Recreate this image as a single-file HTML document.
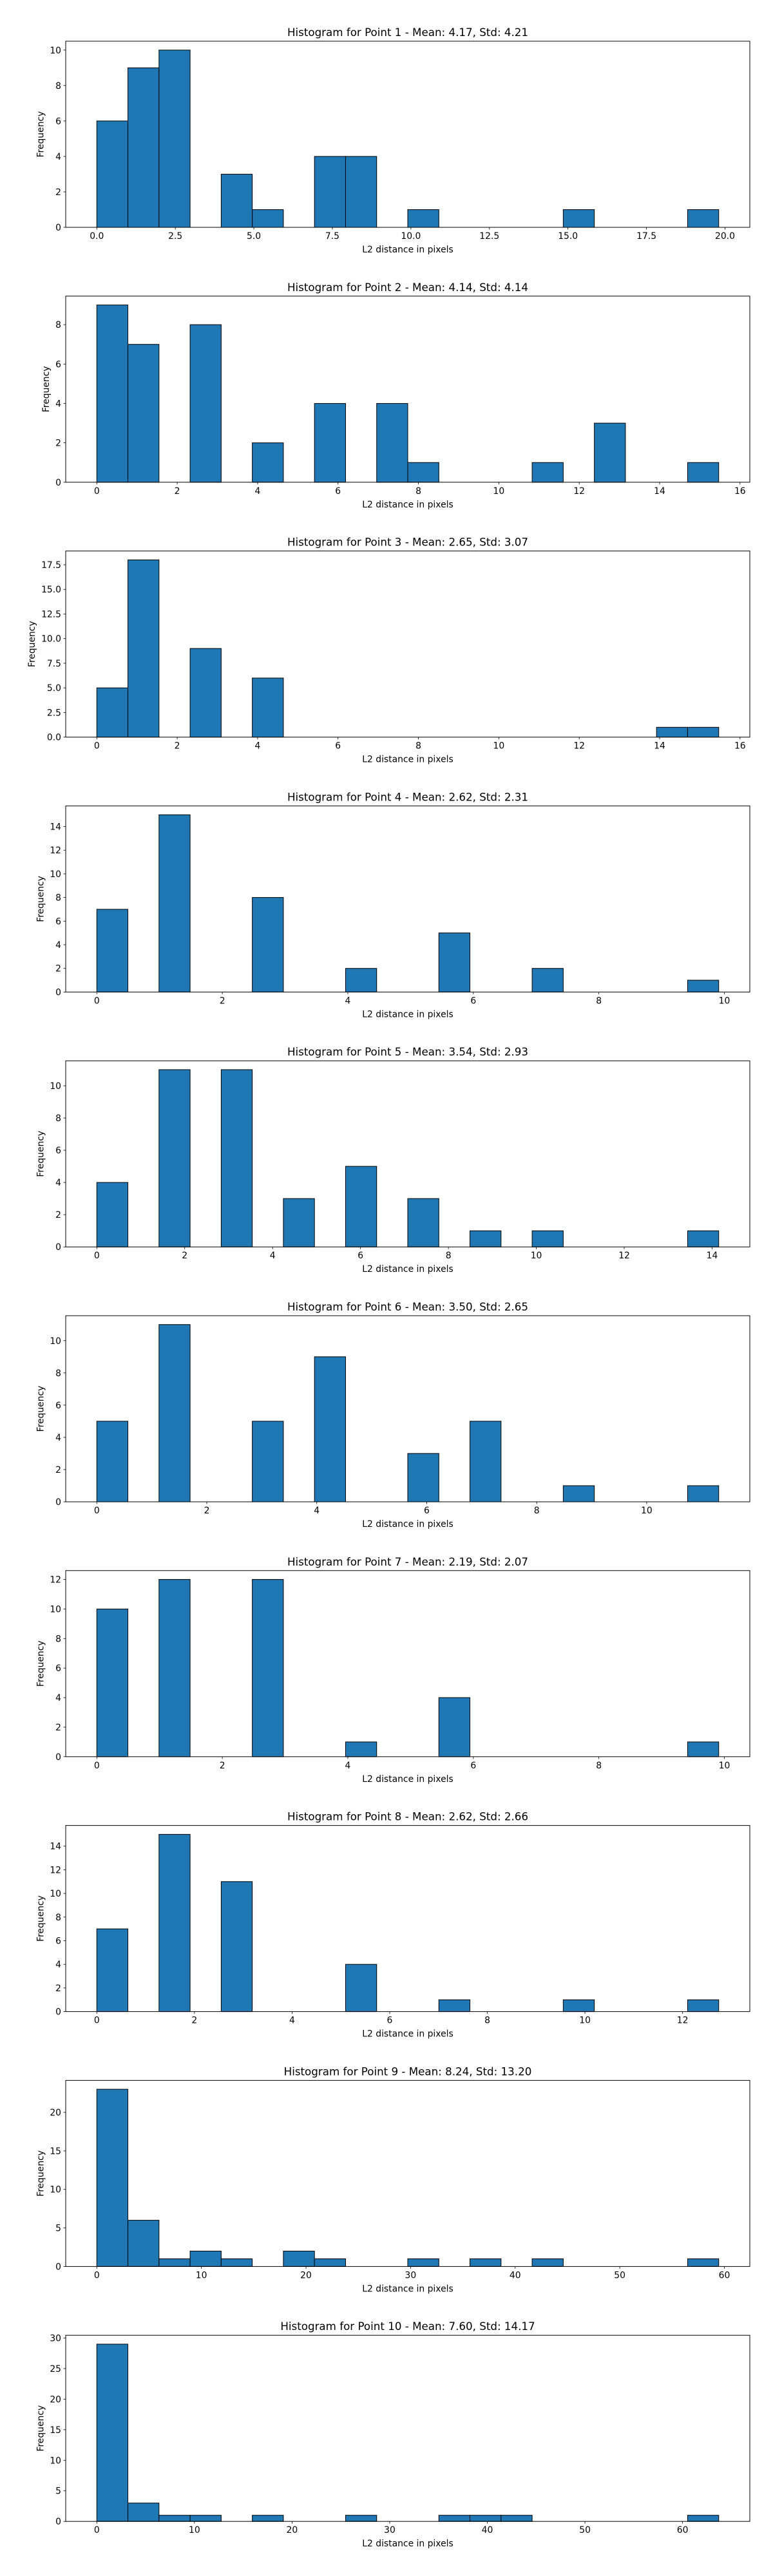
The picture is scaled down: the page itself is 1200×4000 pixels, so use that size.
<!DOCTYPE html>
<html><head><meta charset="utf-8">
<style>
html,body{margin:0;padding:0;background:#fff;}
svg{display:block;font-family:"DejaVu Sans","Liberation Sans",sans-serif;}
</style></head>
<body>
<svg id="fig" width="1200" height="4000" viewBox="0 0 1200 4000" xmlns="http://www.w3.org/2000/svg">
<rect x="0" y="0" width="1200" height="4000" fill="#fff"/>
</svg>
<script>
// ---- data ----
const titles = [
  "Histogram for Point 1 - Mean: 4.17, Std: 4.21",
  "Histogram for Point 2 - Mean: 4.14, Std: 4.14",
  "Histogram for Point 3 - Mean: 2.65, Std: 3.07",
  "Histogram for Point 4 - Mean: 2.62, Std: 2.31",
  "Histogram for Point 5 - Mean: 3.54, Std: 2.93",
  "Histogram for Point 6 - Mean: 3.50, Std: 2.65",
  "Histogram for Point 7 - Mean: 2.19, Std: 2.07",
  "Histogram for Point 8 - Mean: 2.62, Std: 2.66",
  "Histogram for Point 9 - Mean: 8.24, Std: 13.20",
  "Histogram for Point 10 - Mean: 7.60, Std: 14.17"
];
const binMin = [0,0,0,0,0,0,0,0,0,0];
const binMax = [19.8,15.47,15.47,9.91,14.15,11.31,9.91,12.74,59.46,63.7];
const counts1 = [6,9,10,0,3,1,0,4,4,0,1,0,0,0,0,1,0,0,0,1];
const counts2 = [9,7,0,8,0,2,0,4,0,4,1,0,0,0,1,0,3,0,0,1];
const counts3 = [5,18,0,9,0,6,0,0,0,0,0,0,0,0,0,0,0,0,1,1];
const counts4 = [7,0,15,0,0,8,0,0,2,0,0,5,0,0,2,0,0,0,0,1];
const counts5 = [4,0,11,0,11,0,3,0,5,0,3,0,1,0,1,0,0,0,0,1];
const counts6 = [5,0,11,0,0,5,0,9,0,0,3,0,5,0,0,1,0,0,0,1];
const counts7 = [10,0,12,0,0,12,0,0,1,0,0,4,0,0,0,0,0,0,0,1];
const counts8 = [7,0,15,0,11,0,0,0,4,0,0,1,0,0,0,1,0,0,0,1];
const counts9 = [23,6,1,2,1,0,2,1,0,0,1,0,1,0,1,0,0,0,0,1];
const counts10 = [29,3,1,1,0,1,0,0,1,0,0,1,1,1,0,0,0,0,0,1];
const allCounts = [counts1,counts2,counts3,counts4,counts5,counts6,counts7,counts8,counts9,counts10];
const xTicks = [
  [0,2.5,5,7.5,10,12.5,15,17.5,20],
  [0,2,4,6,8,10,12,14,16],
  [0,2,4,6,8,10,12,14,16],
  [0,2,4,6,8,10],
  [0,2,4,6,8,10,12,14],
  [0,2,4,6,8,10],
  [0,2,4,6,8,10],
  [0,2,4,6,8,10,12],
  [0,10,20,30,40,50,60],
  [0,10,20,30,40,50,60]
];
const xTickLabels = [
  ["0.0","2.5","5.0","7.5","10.0","12.5","15.0","17.5","20.0"],
  ["0","2","4","6","8","10","12","14","16"],
  ["0","2","4","6","8","10","12","14","16"],
  ["0","2","4","6","8","10"],
  ["0","2","4","6","8","10","12","14"],
  ["0","2","4","6","8","10"],
  ["0","2","4","6","8","10"],
  ["0","2","4","6","8","10","12"],
  ["0","10","20","30","40","50","60"],
  ["0","10","20","30","40","50","60"]
];
const yTicks = [
  [0,2,4,6,8,10],
  [0,2,4,6,8],
  [0,2.5,5,7.5,10,12.5,15,17.5],
  [0,2,4,6,8,10,12,14],
  [0,2,4,6,8,10],
  [0,2,4,6,8,10],
  [0,2,4,6,8,10,12],
  [0,2,4,6,8,10,12,14],
  [0,5,10,15,20],
  [0,5,10,15,20,25,30]
];
const yTickLabels = [
  ["0","2","4","6","8","10"],
  ["0","2","4","6","8"],
  ["0.0","2.5","5.0","7.5","10.0","12.5","15.0","17.5"],
  ["0","2","4","6","8","10","12","14"],
  ["0","2","4","6","8","10"],
  ["0","2","4","6","8","10"],
  ["0","2","4","6","8","10","12"],
  ["0","2","4","6","8","10","12","14"],
  ["0","5","10","15","20"],
  ["0","5","10","15","20","25","30"]
];

// ---- layout ----
const NS = "http://www.w3.org/2000/svg";
const svg = document.getElementById("fig");
const AX_L = 102, AX_R = 1164, AX_H = 289, TOP0 = 64, STEP = 395.8;
function mk(tag, attrs, parent){
  const e = document.createElementNS(NS, tag);
  for (const k in attrs) e.setAttribute(k, attrs[k]);
  (parent||svg).appendChild(e);
  return e;
}
function labelWidth(s){
  let w = 0;
  for (const ch of s) w += (ch === '.') ? 4.4 : 8.84;
  return w;
}
for (let p = 0; p < 10; p++) {
  const top = TOP0 + p*STEP, bot = top + AX_H;
  const counts = allCounts[p];
  const lo = binMin[p], hi = binMax[p];
  const pad = (hi-lo)*0.05;
  const x0 = lo-pad, x1 = hi+pad;
  const ymax = Math.max(...counts)*1.05;
  const sx = v => AX_L + (v-x0)/(x1-x0)*(AX_R-AX_L);
  const sy = v => bot - v/ymax*AX_H;
  const g = mk("g", {});
  
  

  const t = mk("text", {x:(AX_L+AX_R)/2, y:top-8, "text-anchor":"middle", "font-size":"16.7", fill:"#000"}, g);
  t.textContent = titles[p];
  
  

  const bw = (hi-lo)/counts.length;
  for (let i = 0; i < counts.length; i++) {
    const c = counts[i];
    const xa = sx(lo+i*bw), xb = sx(lo+(i+1)*bw);
    const r = mk("rect", {x:xa, y:sy(c), width:xb-xa, height:bot-sy(c), fill:"#1f77b4", stroke: c>0?"#000":"none", "stroke-width":"1"}, g);
    
    
  }

  const frame = mk("rect", {x:AX_L, y:top, width:AX_R-AX_L, height:AX_H, fill:"none", stroke:"#000", "stroke-width":"1"}, g);
  
  

  xTicks[p].forEach((v, i) => {
    const x = sx(v);
    mk("line", {x1:x, x2:x, y1:bot, y2:bot+3.5, stroke:"#000", "stroke-width":"0.8"}, g);
    const tl = mk("text", {x:x, y:bot+18, "text-anchor":"middle", "font-size":"13.9", fill:"#000"}, g);
    tl.textContent = xTickLabels[p][i];
    
    
  });
  let maxW = 0;
  yTicks[p].forEach((v, i) => {
    const y = sy(v);
    mk("line", {x1:AX_L-3.5, x2:AX_L, y1:y, y2:y, stroke:"#000", "stroke-width":"0.8"}, g);
    const tl = mk("text", {x:AX_L-7, y:y+5, "text-anchor":"end", "font-size":"13.9", fill:"#000"}, g);
    tl.textContent = yTickLabels[p][i];
    maxW = Math.max(maxW, labelWidth(yTickLabels[p][i]));
    
    
  });

  const xl = mk("text", {x:(AX_L+AX_R)/2, y:bot+39, "text-anchor":"middle", "font-size":"13.9", fill:"#000"}, g);
  xl.textContent = "L2 distance in pixels";
  
  

  const yc = (top+bot)/2;
  const ylx = AX_L - 7 - maxW - 10;
  const yl = mk("text", {x:0, y:0, "text-anchor":"middle", "font-size":"13.9", fill:"#000", transform:"translate(" + ylx + "," + yc + ") rotate(-90)"}, g);
  yl.textContent = "Frequency";
  
  
}
</script>
</body></html>
